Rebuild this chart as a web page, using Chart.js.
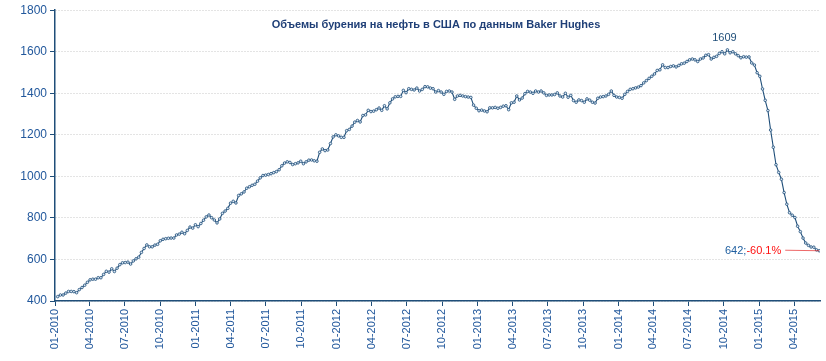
<!DOCTYPE html>
<html>
<head>
<meta charset="utf-8">
<script src="https://cdn.jsdelivr.net/npm/chart.js@4.4.1/dist/chart.umd.min.js"></script>
<style>
  html, body { margin: 0; padding: 0; background: #ffffff; }
  #c { display: block; }
</style>
</head>
<body>
<canvas id="c" width="826" height="361"></canvas>
<script>
// ---- DATA (weekly Baker Hughes US oil rig count, first week 2010-01-08) ----
const chartTitle = 'Объемы бурения на нефть в США по данным Baker Hughes';
const firstWeek = '2010-01-08';
const axisStart = '2010-01-01';
const axisEnd = '2015-06-07';

const rigs2010 = [421,429,429,438,446,446,445,440,455,465,476,490,
  502,505,505,512,512,528,543,539,555,542,558,575,584,
  585,587,578,593,603,611,634,653,670,661,661,669,673,
  690,697,700,702,703,703,718,722,731,724,740,756,751,767];
const rigs2011 = [758,773,789,805,814,801,790,776,795,822,833,846,
  871,880,872,908,916,925,943,950,957,962,977,993,1004,
  1006,1009,1013,1018,1023,1032,1051,1064,1070,1067,1057,1061,1065,1073,
  1061,1070,1078,1079,1075,1073,1116,1132,1124,1127,1158,1190,1200];
const rigs2012 = [1195,1188,1188,1220,1226,1242,1261,1269,1262,1293,1296,1318,1312,
  1314,1321,1329,1318,1340,1325,1354,1373,1383,1385,1385,1414,1403,
  1422,1419,1416,1425,1411,1419,1432,1431,1425,1422,1406,1413,1406,
  1395,1409,1411,1406,1371,1387,1390,1387,1384,1382,1380,1343,1328];
const rigs2013 = [1316,1319,1315,1311,1330,1330,1332,1328,1332,1338,1340,1321,1354,
  1357,1387,1368,1377,1398,1409,1406,1400,1411,1406,1411,1402,1390,
  1392,1392,1394,1402,1387,1382,1400,1381,1390,1365,1357,1368,1365,
  1357,1373,1367,1357,1353,1376,1382,1384,1387,1395,1411,1390,1382];
const rigs2014 = [1380,1376,1395,1409,1419,1422,1426,1430,1437,1450,1461,1472,1482,
  1493,1510,1513,1537,1524,1524,1529,1532,1527,1534,1542,1545,1553,
  1561,1565,1561,1553,1565,1570,1583,1586,1565,1573,1578,1592,1600,
  1590,1609,1595,1600,1590,1581,1571,1576,1574,1575,1546,1536,1499];
const rigs2015 = [1482,1421,1366,1317,1223,1140,1056,1019,986,922,866,825,813,
  802,760,734,703,679,668,660,659,646,642];

const xTickLabels = ['01-2010','04-2010','07-2010','10-2010',
  '01-2011','04-2011','07-2011','10-2011',
  '01-2012','04-2012','07-2012','10-2012',
  '01-2013','04-2013','07-2013','10-2013',
  '01-2014','04-2014','07-2014','10-2014',
  '01-2015','04-2015'];
const yMin = 400, yMax = 1800, yStep = 200;

// ---- helpers ----
const DAY = 86400000;
const baseUTC = Date.UTC(2010, 0, 1);
function dayOfIso(iso) {
  const p = iso.split('-').map(Number);
  return (Date.UTC(p[0], p[1] - 1, p[2]) - baseUTC) / DAY;
}
function dayOfTick(lbl) {
  const p = lbl.split('-').map(Number);
  return (Date.UTC(p[1], p[0] - 1, 1) - baseUTC) / DAY;
}
const values = [].concat(rigs2010, rigs2011, rigs2012, rigs2013, rigs2014, rigs2015);
const startDay = dayOfIso(firstWeek);
const points = values.map((v, i) => ({ x: startDay + 7 * i, y: v }));
const tickValues = xTickLabels.map(dayOfTick);

const FONT = "'Liberation Sans', Arial, sans-serif";
const AXIS_BLUE = '#1F4E79';
const LABEL_BLUE = '#22589C';
const LINE_BLUE = '#1F4E79';

const annotate = {
  id: 'annotate',
  afterDatasetsDraw(chart) {
    const ctx = chart.ctx;
    const meta = chart.getDatasetMeta(0);
    ctx.save();
    // title
    ctx.font = 'bold 11px ' + FONT;
    ctx.fillStyle = '#1F3F77';
    ctx.textAlign = 'center';
    ctx.textBaseline = 'middle';
    ctx.fillText(chartTitle, 436, 25);

    // peak label
    let maxI = 0;
    values.forEach((v, i) => { if (v > values[maxI]) maxI = i; });
    const pk = meta.data[maxI];
    ctx.font = '11px ' + FONT;
    ctx.fillStyle = '#1F4E79';
    ctx.fillText(String(values[maxI]), pk.x - 3, pk.y - 12);

    // last label
    const lastI = values.length - 1;
    const lp = meta.data[lastI];
    const pct = ((values[lastI] / values[maxI] - 1) * 100).toFixed(1) + '%';
    const part1 = values[lastI] + ';';
    ctx.textAlign = 'left';
    const w1 = ctx.measureText(part1).width;
    const w2 = ctx.measureText(pct).width;
    const endX = lp.x - 38;
    const sx = endX - w1 - w2;
    ctx.fillStyle = '#1F5FA0';
    ctx.fillText(part1, sx, lp.y);
    ctx.fillStyle = '#FF1010';
    ctx.fillText(pct, sx + w1, lp.y);
    ctx.strokeStyle = 'rgba(230,40,40,0.7)';
    ctx.lineWidth = 1;
    ctx.beginPath();
    ctx.moveTo(endX + 4, lp.y - 0.5);
    ctx.lineTo(lp.x, lp.y);
    ctx.stroke();
    ctx.restore();
  }
};

new Chart(document.getElementById('c'), {
  type: 'line',
  data: {
    datasets: [{
      data: points,
      borderColor: LINE_BLUE,
      borderWidth: 1.1,
      pointRadius: 1.3,
      pointBorderWidth: 0.8,
      pointBackgroundColor: '#dce9f6',
      pointBorderColor: LINE_BLUE,
      tension: 0,
      fill: false
    }]
  },
  options: {
    responsive: false,
    animation: false,
    events: [],
    layout: { padding: { top: 6, right: 6, left: 0, bottom: 0 } },
    plugins: { legend: { display: false }, tooltip: { enabled: false }, title: { display: false } },
    scales: {
      x: {
        type: 'linear',
        min: dayOfIso(axisStart),
        max: dayOfIso(axisEnd),
        afterBuildTicks(axis) { axis.ticks = tickValues.map(v => ({ value: v })); },
        afterFit(axis) { axis.height = 60; },
        grid: { drawOnChartArea: false, drawTicks: true, tickLength: 5, tickColor: AXIS_BLUE, tickWidth: 1 },
        border: { display: true, color: AXIS_BLUE, width: 1.5 },
        ticks: {
          autoSkip: false,
          maxRotation: 90,
          minRotation: 90,
          padding: 3,
          color: LABEL_BLUE,
          font: { family: FONT, size: 11 },
          callback(v) {
            const idx = tickValues.indexOf(v);
            return idx >= 0 ? xTickLabels[idx] : '';
          }
        }
      },
      y: {
        min: yMin,
        max: yMax,
        afterFit(axis) { axis.width = 55; },
        grid: { color: '#c8c8c8', lineWidth: 1, drawTicks: true, tickLength: 5, tickColor: AXIS_BLUE, tickBorderDash: [] },
        border: { display: true, color: AXIS_BLUE, width: 1.5, dash: [1, 2] },
        ticks: {
          stepSize: yStep,
          padding: 3,
          color: LABEL_BLUE,
          font: { family: FONT, size: 12 },
          callback(v) { return String(v); }
        }
      }
    }
  },
  plugins: [annotate]
});
</script>
</body>
</html>
